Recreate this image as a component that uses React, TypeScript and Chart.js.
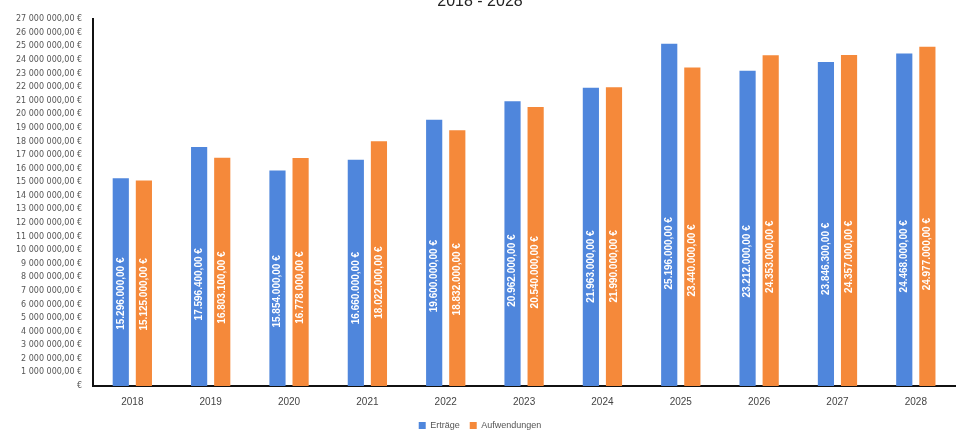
import React, { useEffect, useRef } from "react";
import { Chart, registerables } from "chart.js";

Chart.register(...registerables);

const categories = ["2018", "2019", "2020", "2021", "2022", "2023", "2024", "2025", "2026", "2027", "2028"];
const ertraege = [15296000, 17596400, 15854000, 16660000, 19600000, 20962000, 21963000, 25196000, 23212000, 23846300, 24468000];
const aufwendungen = [15125000, 16803100, 16778000, 18022000, 18832000, 20540000, 21990000, 23440000, 24353000, 24357000, 24977000];
const yMax = 27000000;
const yStep = 1000000;
const titleText = "2018 - 2028";
const seriesNames = ["Erträge", "Aufwendungen"];

const BLUE = "#4f86dc";
const ORANGE = "#f5893a";

function groupDigits(n: number, sep: string): string {
  const s = Math.round(n).toString();
  return s.replace(/\B(?=(\d{3})+(?!\d))/g, sep);
}

const barLabelPlugin = {
  id: "barLabels",
  afterDatasetsDraw(chart: any) {
    const ctx = chart.ctx;
    ctx.save();
    ctx.fillStyle = "#ffffff";
    ctx.font = "bold 10px 'Liberation Sans', Arial, sans-serif";
    ctx.textAlign = "center";
    ctx.textBaseline = "middle";
    chart.data.datasets.forEach((ds: any, di: number) => {
      const meta = chart.getDatasetMeta(di);
      meta.data.forEach((el: any, i: number) => {
        const v = ds.data[i];
        const h = el.base - el.y;
        const cy = el.base - (0.3 * h + 30);
        ctx.save();
        ctx.translate(el.x, cy);
        ctx.rotate(-Math.PI / 2);
        ctx.fillText(groupDigits(v, ".") + ",00 €", 0, 0);
        ctx.restore();
      });
    });
    ctx.restore();
  },
};

export default function App() {
  const ref = useRef<HTMLCanvasElement | null>(null);
  useEffect(() => {
    document.body.style.margin = "0";
    const canvas = ref.current;
    if (!canvas) return;
    const chart = new Chart(canvas, {
      type: "bar",
      data: {
        labels: categories,
        datasets: [
          { label: seriesNames[0], data: ertraege, backgroundColor: BLUE, barPercentage: 0.7, categoryPercentage: 0.59 },
          { label: seriesNames[1], data: aufwendungen, backgroundColor: ORANGE, barPercentage: 0.7, categoryPercentage: 0.59 },
        ],
      },
      options: {
        animation: false,
        responsive: false,
        maintainAspectRatio: false,
        layout: { padding: { left: 5, right: 4, top: 0, bottom: 0 } },
        plugins: {
          title: {
            display: true,
            text: titleText,
            color: "#222",
            font: { size: 16, weight: "normal", family: "'Liberation Sans', Arial, sans-serif" },
            padding: { top: 4, bottom: 8 },
          },
          legend: {
            position: "bottom",
            labels: {
              boxWidth: 7,
              boxHeight: 7,
              color: "#555",
              font: { size: 9, family: "'Liberation Sans', Arial, sans-serif" },
              padding: 10,
            },
          },
          tooltip: { enabled: false },
        },
        scales: {
          x: {
            grid: { display: false, drawTicks: false },
            border: { display: true, color: "#111", width: 2 },
            ticks: { color: "#444", font: { size: 10, family: "'Liberation Sans', Arial, sans-serif" }, padding: 10 },
            afterFit: (scale: any) => {
              scale.height = 25;
            },
          },
          y: {
            min: 0,
            max: yMax,
            grid: { display: false, drawTicks: false },
            border: { display: true, color: "#111", width: 2 },
            ticks: {
              stepSize: yStep,
              color: "#555",
              padding: 11,
              font: { size: 8, family: "'DejaVu Sans', sans-serif" },
              callback: (v: any) => (Number(v) === 0 ? "€" : groupDigits(Number(v), " ") + ",00 €"),
            },
          },
        },
      },
      plugins: [barLabelPlugin],
    });
    return () => chart.destroy();
  }, []);
  return (
    <div style={{ width: 959, height: 430, overflow: "hidden", position: "relative", background: "#fff" }}>
      <canvas ref={ref} width={959} height={452} style={{ position: "absolute", left: 0, top: -12, width: 959, height: 452 }} />
    </div>
  );
}
